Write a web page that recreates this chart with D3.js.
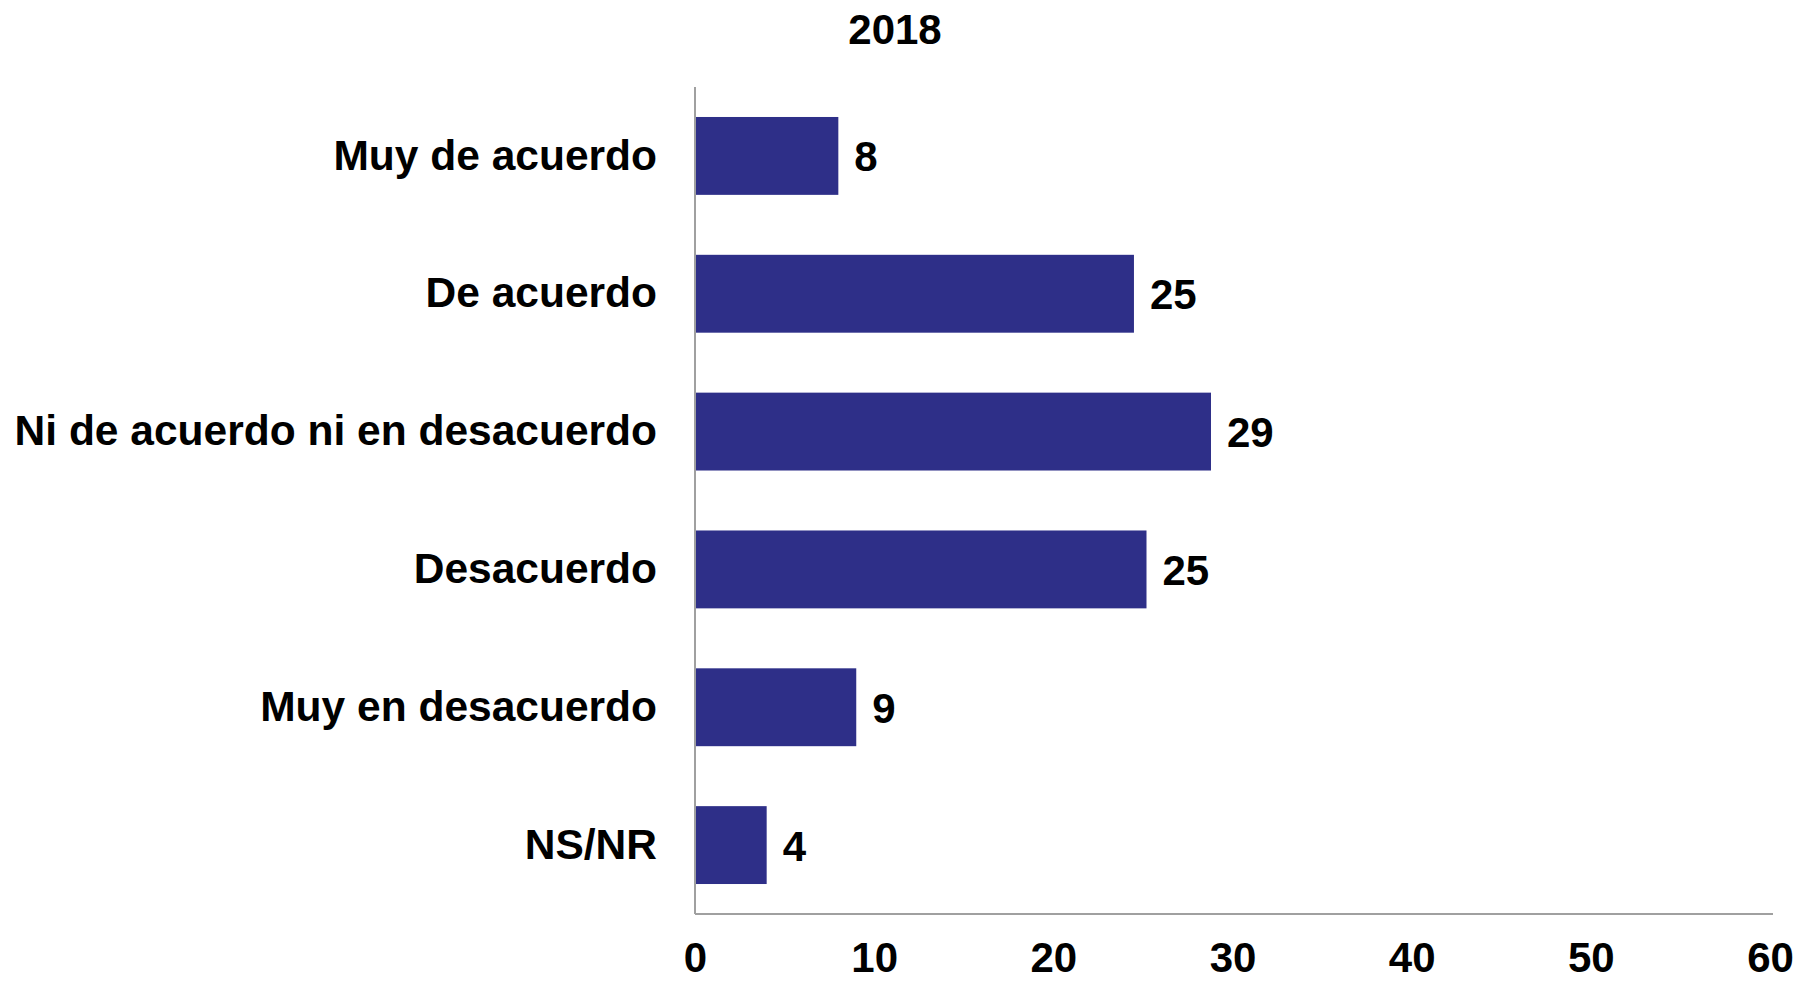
<!DOCTYPE html>
<html>
<head>
<meta charset="utf-8">
<script src="https://cdn.jsdelivr.net/npm/d3@7"></script>
<style>
  html, body { margin: 0; padding: 0; background: #ffffff; }
  svg { display: block; }
  text { font-family: "Liberation Sans", Arial, sans-serif; font-weight: bold; fill: #000; }
</style>
</head>
<body>
<svg id="chart" width="1800" height="983"></svg>
<script>
const title = "2018";
const categories = ["Muy de acuerdo", "De acuerdo", "Ni de acuerdo ni en desacuerdo", "Desacuerdo", "Muy en desacuerdo", "NS/NR"];
const values = [8.0, 24.5, 28.8, 25.2, 9.0, 4.0];
const valueLabels = ["8", "25", "29", "25", "9", "4"];
const xTicks = [0, 10, 20, 30, 40, 50, 60];

(function () {
const svg = d3.select("#chart");
const mLeft = 695, mRight = 1770, mTop = 87, mBottom = 914;

const x = d3.scaleLinear().domain([0, 60]).range([mLeft, mRight]);
const y = d3.scaleBand().domain(categories).range([mTop, mBottom]).paddingInner(0.435).paddingOuter(0.2175);

// title
svg.append("text").attr("x", 895).attr("y", 29).attr("text-anchor", "middle")
  .attr("dominant-baseline", "central").attr("font-size", 42).text(title);

// bars
svg.selectAll("rect.bar").data(categories).enter().append("rect")
  .attr("class", "bar")
  .attr("x", x(0))
  .attr("y", d => y(d))
  .attr("width", (d, i) => x(values[i]) - x(0))
  .attr("height", y.bandwidth())
  .attr("fill", "#2E2F88");

// value labels
svg.selectAll("text.val").data(categories).enter().append("text")
  .attr("class", "val")
  .attr("x", (d, i) => x(values[i]) + 16)
  .attr("y", d => y(d) + y.bandwidth() / 2 + 1)
  .attr("dominant-baseline", "central")
  .attr("font-size", 42)
  .text((d, i) => valueLabels[i]);

// y axis (category labels)
const yAxis = d3.axisLeft(y).tickSize(0).tickPadding(38);
const gy = svg.append("g").attr("transform", `translate(${mLeft},0)`).call(yAxis);
gy.select(".domain").remove();
gy.selectAll("text").attr("font-size", 42.5).attr("font-family", "Liberation Sans, Arial, sans-serif")
  .attr("font-weight", "bold").attr("fill", "#000");

svg.append("line").attr("x1", mLeft).attr("x2", mLeft).attr("y1", mTop).attr("y2", mBottom)
  .attr("stroke", "#A0A0A0").attr("stroke-width", 2);

// x axis
const xAxis = d3.axisBottom(x).tickValues(xTicks).tickSize(0).tickPadding(28).tickFormat(d3.format("d"));
const gx = svg.append("g").attr("transform", `translate(0,${mBottom})`).call(xAxis);
gx.select(".domain").remove();
gx.selectAll("text").attr("font-size", 42).attr("font-family", "Liberation Sans, Arial, sans-serif")
  .attr("font-weight", "bold").attr("fill", "#000");
svg.append("line").attr("x1", mLeft).attr("x2", 1773).attr("y1", mBottom).attr("y2", mBottom)
  .attr("stroke", "#A0A0A0").attr("stroke-width", 2);
})();
</script>
</body>
</html>
